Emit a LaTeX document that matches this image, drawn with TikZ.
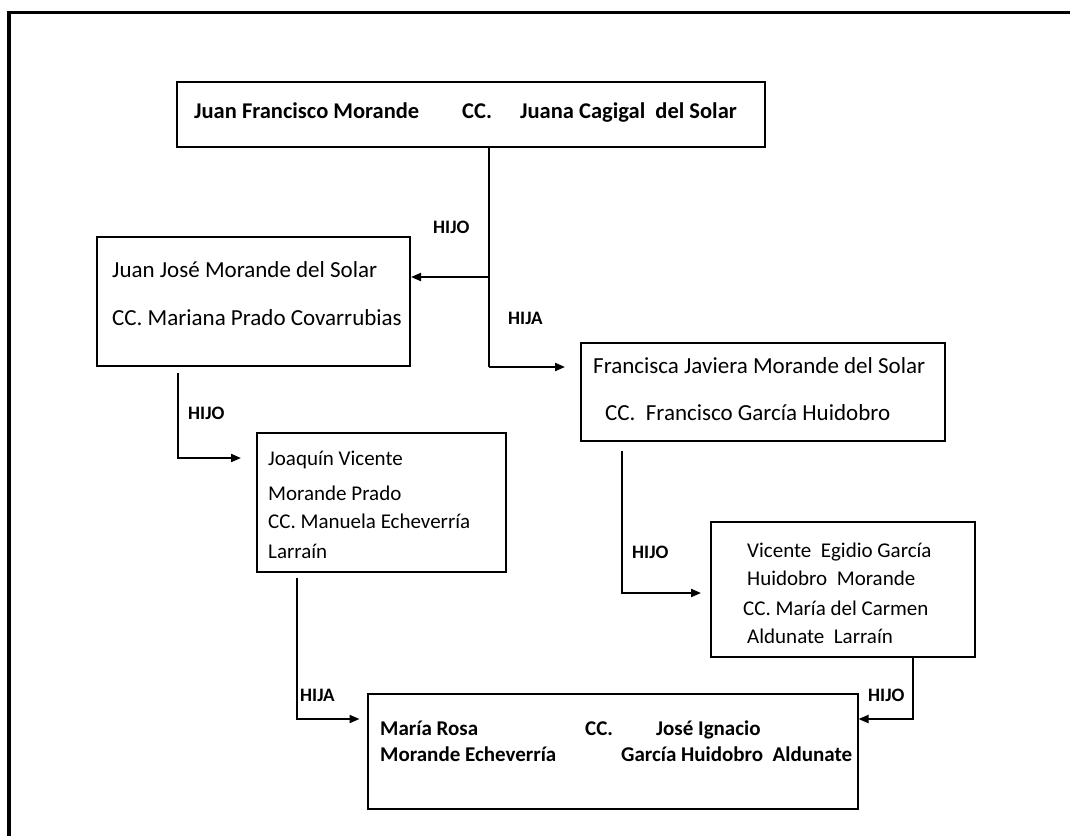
\documentclass[tikz,border=0pt]{standalone}
\usepackage{fontspec}
\setmainfont{Carlito}
\usetikzlibrary{arrows.meta}
\begin{document}
\begin{tikzpicture}[x=1pt,y=-1pt,
  famBox/.style={draw, rectangle, line width=2pt, inner sep=0pt},
  link/.style={draw, line width=2pt},
  arrowlink/.style={link, -{Triangle[length=10pt,width=8pt]}},
  txt/.style={anchor=base west, inner sep=0pt, font=\fontsize{#1}{#1}\selectfont},
  btxt/.style={anchor=base west, inner sep=0pt, font=\fontsize{#1}{#1}\selectfont\bfseries},
  rel/.style={anchor=base west, inner sep=0pt, font=\fontsize{19}{19}\selectfont\bfseries}]
\useasboundingbox (0,0) rectangle (1070,836);

% outer frame (top and left edges)
\draw[line width=3.5pt] (9,836) -- (9,12.5) -- (1070,12.5);

% family boxes
\node[famBox, minimum width=588pt, minimum height=65pt]  (A) at (471,114.5) {};
\node[famBox, minimum width=313pt, minimum height=129pt] (B) at (253.5,301.5) {};
\node[famBox, minimum width=364pt, minimum height=98pt]  (C) at (763,392) {};
\node[famBox, minimum width=249pt, minimum height=139pt] (D) at (381.5,502.5) {};
\node[famBox, minimum width=264pt, minimum height=135pt] (E) at (843,589.5) {};
\node[famBox, minimum width=490pt, minimum height=115pt] (F) at (612.5,751.5) {};

% box texts (positions are baselines)
\node[btxt=22.5] (a1) at (194,118) {Juan Francisco Morande};
\node[btxt=22.5] (a2) at (462,118) {CC.};
\node[btxt=22.5] (a3) at (520,118) {Juana Cagigal~ del Solar};

\node[txt=23] (b1) at (112,277) {Juan José Morande del Solar};
\node[txt=23] (b2) at (112,325) {CC. Mariana Prado Covarrubias};

\node[txt=23] (c1) at (593,373) {Francisca Javiera Morande del Solar};
\node[txt=23] (c2) at (605,420) {CC.~ Francisco García Huidobro};

\node[txt=21] (d1) at (268,465) {Joaquín Vicente};
\node[txt=21] (d2) at (268,500) {Morande Prado};
\node[txt=21] (d3) at (268,528) {CC. Manuela Echeverría};
\node[txt=21] (d4) at (268,558) {Larraín};

\node[txt=21] (e1) at (747,557) {Vicente~ Egidio García};
\node[txt=21] (e2) at (747,585) {Huidobro~ Morande};
\node[txt=21] (e3) at (743,615) {CC. María del Carmen};
\node[txt=21] (e4) at (747,643) {Aldunate~ Larraín};

\node[btxt=21] (f1) at (380,735) {María Rosa};
\node[btxt=21] (f2) at (585,735) {CC.};
\node[btxt=21] (f3) at (656,735) {José Ignacio};
\node[btxt=21] (f4) at (380,761) {Morande Echeverría};
\node[btxt=21] (f5) at (621,761) {García Huidobro~ Aldunate};

% branch points
\coordinate (ta) at (489,277);
\coordinate (tb) at (489,367);
\coordinate (bd) at (178,458);
\coordinate (ce) at (622,593);
\coordinate (df) at (297,719);
\coordinate (ef) at (913,719);

% connectors
\draw[link] (A.south -| ta) -- (tb);
\draw[arrowlink] (ta) -- (B.east |- ta);
\draw[arrowlink, shorten >=15pt] (tb) -- (C.west |- tb);
\draw[arrowlink, shorten <=6pt, shorten >=15pt] (B.south -| bd) -- (bd) -- (D.west |- bd);
\draw[arrowlink, shorten <=9pt, shorten >=9pt] (C.south -| ce) -- (ce) -- (E.west |- ce);
\draw[arrowlink, shorten <=5pt, shorten >=7pt] (D.south -| df) -- (df) -- (F.west |- df);
\draw[arrowlink] (E.south -| ef) -- (ef) -- (F.east |- ef);

% relation labels (positions are baselines)
\node[rel] (l1) at (433,233) {HIJO};
\node[rel] (l2) at (508,324) {HIJA};
\node[rel] (l3) at (188,419) {HIJO};
\node[rel] (l4) at (632,558) {HIJO};
\node[rel] (l5) at (300,701) {HIJA};
\node[rel] (l6) at (868,701) {HIJO};
\end{tikzpicture}
\end{document}
